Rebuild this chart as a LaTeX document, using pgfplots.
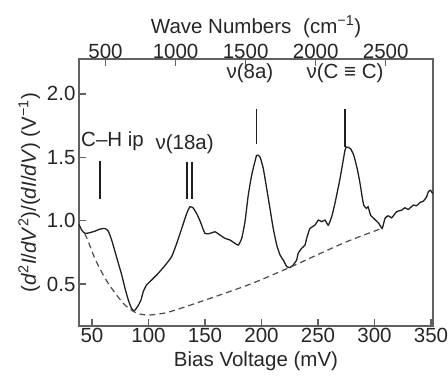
\documentclass[border=0pt]{standalone}
\usepackage{fontspec}
\setmainfont{Liberation Sans}
\usepackage{pgfplots}
\pgfplotsset{compat=1.18}
\definecolor{frame}{gray}{0.38}
\definecolor{curve}{gray}{0.12}
\begin{document}
\begin{tikzpicture}
\useasboundingbox (0,0) rectangle (448pt,377pt);
\begin{axis}[
  at={(79pt,51pt)}, anchor=south west,
  scale only axis, width=354pt, height=267pt,
  xmin=38.5, xmax=351.8, ymin=0.17, ymax=2.275,
  xtick={50,100,...,350}, ytick={0.5,1.0,1.5,2.0},
  yticklabel style={/pgf/number format/fixed,/pgf/number format/fixed zerofill,/pgf/number format/precision=1},
  xticklabel style={inner sep=1.5pt},
  xtick pos=bottom, ytick pos=left, tick align=inside,
  major tick length=7pt,
  axis line style={frame, line width=1.6pt},
  every tick/.style={frame, line width=1.4pt},
  /pgf/number format/assume math mode=true,
  tick label style={font=\fontsize{20.5}{24}\selectfont, text=black!85},
  label style={font=\fontsize{20.5}{24}\selectfont, text=black!85},
  xlabel={Bias Voltage (mV)},
  xlabel style={yshift=-4pt},
  ylabel={(\textit{d}\textsuperscript{2}\textit{I}/\textit{dV}\textsuperscript{2})/(\textit{dI}/\textit{dV}) (V\textsuperscript{−1})},
  clip=false,
]
\addplot[curve, line width=1.3pt, smooth, tension=0.3] coordinates {
(38.5,0.971)(40.9,0.926)(43.8,0.900)(48.2,0.906)(52.7,0.918)(57.1,0.934)(61.5,0.939)
(64.4,0.918)(67.4,0.848)(70.4,0.756)(73.3,0.665)(76.3,0.573)(79.2,0.468)(82.1,0.376)
(85.1,0.306)(87.4,0.290)(90.4,0.324)(93.4,0.376)(95.4,0.442)(98.4,0.494)(102.8,0.533)
(108.7,0.586)(114.6,0.647)(120.5,0.717)(125,0.822)(129.4,0.939)(133.8,1.057)(136.7,1.110)
(139.6,1.100)(143,1.050)(146,0.990)(150,0.900)(154.4,0.900)(158.8,0.913)(163.3,0.887)
(167.7,0.861)(172.1,0.848)(176.5,0.822)(179.5,0.808)(182.5,0.861)(185.4,0.992)(188.3,1.201)
(191.3,1.358)(195.7,1.515)(198.7,1.502)(201.6,1.411)(204.6,1.254)(207.5,1.097)(210.4,0.939)
(213.5,0.808)(216.4,0.730)(219.3,0.690)(222.3,0.639)(225.2,0.631)(228.1,0.651)(231.1,0.690)
(232.5,0.743)(235.5,0.782)(238.5,0.808)(240.0,0.861)(242.9,0.939)(247.3,0.965)(250.3,1.005)
(253.3,0.992)(256.2,1.005)(259.1,0.965)(262.1,1.031)(265.0,1.136)(269.5,1.332)(273.9,1.555)
(275.4,1.581)(278.8,1.568)(281.7,1.515)(284.7,1.411)(287.0,1.306)(289.1,1.189)(290.5,1.123)
(292.9,1.097)(294.4,1.110)(296.5,1.044)(299.4,1.018)(303.8,0.979)(306.8,0.939)(309.3,1.018)
(312.2,1.039)(315.2,1.023)(319.6,1.071)(324.0,1.083)(327.0,1.102)(329.9,1.089)(334.4,1.123)
(337.3,1.118)(340.3,1.144)(343.2,1.154)(346.2,1.189)(347.6,1.228)(349.7,1.240)(351.5,1.214)
};
\addplot[curve!80, line width=1.2pt, dash pattern=on 6pt off 4pt, smooth] coordinates {
(43.5,0.90)(46.5,0.84)(52.7,0.70)(61.5,0.547)(70.4,0.43)(79.2,0.335)(86.3,0.287)
(92,0.265)(99.6,0.256)(111.9,0.268)(123.5,0.295)(150,0.374)(190,0.50)(225.2,0.633)
(256.2,0.759)(278.3,0.845)(306.6,0.94)
};
\begin{scope}[every node/.style={font=\fontsize{20.5}{24}\selectfont, text=black!85}]
\node at (axis cs:68.2,1.627) {C–H ip};
\node at (axis cs:132,1.603) {ν(18a)};
\node at (axis cs:189.8,2.165) {ν(8a)};
\node at (axis cs:273.9,2.165) {ν(C ≡ C)};
\end{scope}
\draw[curve, line width=1.4pt] (axis cs:57.1,1.474) -- (axis cs:57.1,1.175);
\draw[curve, line width=1.4pt] (axis cs:134.1,1.466) -- (axis cs:134.1,1.175);
\draw[curve, line width=1.4pt] (axis cs:138.5,1.466) -- (axis cs:138.5,1.175);
\draw[curve, line width=1.4pt] (axis cs:195.7,1.882) -- (axis cs:195.7,1.607);
\draw[curve, line width=1.4pt] (axis cs:273.9,1.882) -- (axis cs:273.9,1.584);
\end{axis}
\begin{axis}[
  at={(79pt,51pt)}, anchor=south west,
  scale only axis, width=354pt, height=267pt,
  xmin=310.5, xmax=2837.5, ymin=0, ymax=1,
  axis x line*=top, hide y axis,
  xtick={500,1000,...,2500}, tick align=inside,
  major tick length=7pt,
  axis line style={frame, line width=1.6pt},
  every tick/.style={frame, line width=1.4pt},
  /pgf/number format/assume math mode=true,
  /pgf/number format/1000 sep={},
  xticklabel style={inner sep=0.5pt},
  tick label style={font=\fontsize{20.5}{24}\selectfont, text=black!85},
  label style={font=\fontsize{20.5}{24}\selectfont, text=black!85},
  xlabel={Wave Numbers\hspace{0.3em} (cm\textsuperscript{−1})},
  xlabel style={yshift=2pt},
]
\end{axis}
\end{tikzpicture}
\end{document}
